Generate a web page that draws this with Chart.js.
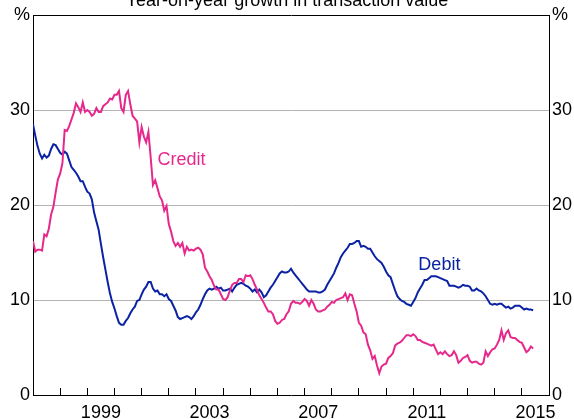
<!DOCTYPE html>
<html>
<head>
<meta charset="utf-8">
<script src="https://cdn.jsdelivr.net/npm/chart.js@4.4.1/dist/chart.umd.min.js"></script>
<style>
  html, body { margin: 0; padding: 0; background: #fff; overflow: hidden; }
  #wrap { position: relative; width: 574px; height: 419px; overflow: hidden; }
  #title { position: absolute; left: 0; top: -9px; width: 574px; text-align: center;
           font: 18px/18px "Liberation Sans", Arial, sans-serif; color: #000; }
  canvas { position: absolute; left: 0; top: 0; }
</style>
</head>
<body>
<div id="wrap">
  <canvas id="chart" width="574" height="419"></canvas>
  <div id="title">Year-on-year growth in transaction value</div>
</div>
<script>
// monthly, starting Jan 1997
const startYear = 1997;
const endYear = 2016;
const yearLabels = [1999, 2003, 2007, 2011, 2015];
const yTicks = [0, 10, 20, 30, 40];

const credit = [
  16.2, 15.1, 15.3, 15.3, 15.2, 16.9, 16.7, 17.5, 19.0, 19.8, 21.3, 22.7,
  23.3, 24.4, 27.9, 27.8, 28.3, 29.0, 29.7, 30.7, 30.3, 29.8, 30.8, 29.8,
  30.0, 29.8, 29.4, 29.6, 30.2, 29.8, 29.8, 30.4, 30.6, 30.8, 31.2, 31.1,
  31.6, 31.6, 32.0, 30.2, 29.8, 31.6, 32.0, 30.6, 29.4, 29.1, 28.8, 26.6,
  28.2, 27.2, 26.6, 27.7, 25.0, 22.1, 22.6, 21.8, 20.9, 20.5, 19.4, 19.9,
  18.0, 17.2, 16.2, 15.7, 16.0, 15.6, 16.0, 14.9, 15.6, 15.2, 15.3, 15.2,
  15.4, 15.5, 15.3, 14.8, 13.4, 13.0, 12.5, 12.1, 11.5, 11.1, 11.1, 10.6,
  10.1, 10.0, 10.3, 11.0, 11.6, 11.8, 11.8, 12.2, 12.2, 11.9, 12.6, 12.5,
  12.6, 12.2, 11.6, 11.1, 10.5, 10.1, 9.7, 9.2, 8.8, 8.8, 8.5, 7.8,
  7.5, 7.6, 7.9, 8.0, 8.5, 8.8, 9.6, 9.9, 9.7, 9.7, 9.6, 9.8,
  10.1, 9.9, 9.4, 10.0, 9.6, 9.0, 8.8, 8.8, 8.9, 9.0, 9.3, 9.5,
  9.8, 9.7, 10.0, 10.1, 10.2, 10.3, 10.7, 10.0, 10.6, 10.5, 9.6, 8.8,
  7.6, 7.3, 6.6, 6.4, 5.3, 4.7, 3.8, 4.1, 3.1, 2.3, 3.0, 3.2,
  3.3, 3.9, 4.1, 4.4, 5.2, 5.4, 5.5, 5.7, 6.0, 6.3, 6.3, 6.2,
  6.4, 6.2, 5.8, 5.8, 5.6, 5.5, 5.4, 5.3, 5.2, 5.3, 4.8, 4.3,
  4.5, 4.3, 4.6, 4.3, 4.1, 4.2, 4.6, 4.2, 3.4, 3.6, 3.9, 4.0,
  4.2, 3.6, 3.4, 3.5, 3.5, 3.3, 3.2, 3.4, 4.6, 4.1, 4.5, 4.8,
  4.9, 5.3, 5.8, 6.8, 5.8, 6.5, 6.8, 6.1, 6.0, 6.0, 5.8, 5.6,
  5.5, 5.0, 4.5, 4.7, 5.1, 4.9
];

const debit = [
  28.5, 27.3, 26.2, 25.4, 24.9, 25.3, 25.0, 25.2, 25.9, 26.4, 26.3, 25.9,
  25.5, 25.3, 25.6, 25.4, 24.7, 24.0, 23.7, 23.4, 23.0, 22.5, 22.5, 21.9,
  21.4, 21.2, 20.6, 19.2, 18.3, 17.4, 15.9, 14.5, 13.2, 11.9, 10.7, 9.8,
  9.1, 8.3, 7.6, 7.4, 7.4, 7.8, 8.1, 8.6, 9.0, 9.3, 9.9, 10.0,
  10.6, 11.1, 11.4, 11.9, 11.9, 11.2, 10.9, 11.0, 10.6, 10.6, 10.4, 10.6,
  10.1, 9.9, 9.4, 8.9, 8.2, 8.0, 8.1, 8.2, 8.3, 8.2, 8.0, 8.3,
  8.7, 9.0, 9.5, 10.1, 10.6, 11.0, 11.2, 11.1, 11.2, 11.4, 11.2, 11.3,
  11.0, 11.0, 11.1, 11.2, 10.9, 11.3, 11.6, 11.7, 11.8, 11.7, 11.5, 11.4,
  11.2, 10.9, 11.1, 10.8, 11.1, 10.8, 10.3, 10.5, 10.9, 11.3, 11.6, 12.0,
  12.4, 12.8, 13.0, 12.9, 12.9, 13.0, 13.3, 12.9, 12.6, 12.3, 12.0, 11.7,
  11.4, 11.1, 10.9, 10.9, 10.9, 10.9, 10.8, 10.8, 10.9, 11.1, 11.6, 12.0,
  12.4, 12.8, 13.4, 13.9, 14.5, 14.9, 15.2, 15.5, 15.9, 15.9, 16.0, 16.2,
  16.2, 15.6, 15.7, 15.6, 15.4, 15.4, 15.0, 14.6, 14.3, 14.1, 13.9, 13.5,
  13.0, 12.6, 12.4, 11.7, 11.0, 10.4, 10.1, 9.9, 9.8, 9.6, 9.5, 9.4,
  9.8, 10.2, 10.8, 11.2, 11.6, 12.1, 12.1, 12.3, 12.5, 12.5, 12.5, 12.4,
  12.3, 12.2, 12.1, 12.0, 11.5, 11.5, 11.5, 11.4, 11.3, 11.4, 11.6, 11.5,
  11.5, 11.4, 11.0, 11.0, 11.2, 11.0, 10.9, 10.7, 10.4, 10.0, 9.6, 9.5,
  9.6, 9.5, 9.6, 9.6, 9.4, 9.2, 9.3, 9.1, 9.2, 9.4, 9.4, 9.4,
  9.2, 9.0, 9.1, 9.0, 9.0, 8.9
];

const months = credit.map((v, i) => startYear + i / 12);

const PINK = '#e6288c';
const BLUE = '#0a22a3';
const FONT = { family: "'Liberation Sans', Arial, sans-serif", size: 18 };

// in-chart series names, placed in data units
const notes = [
  { text: 'Credit', x: 2001.58, y: 24.2, color: PINK },
  { text: 'Debit', x: 2011.19, y: 13.2, color: BLUE }
];

const notesPlugin = {
  id: 'notes',
  afterDatasetsDraw(chart) {
    const ctx = chart.ctx;
    const xs = chart.scales.x, ys = chart.scales.y;
    ctx.save();
    ctx.font = FONT.size + 'px ' + FONT.family;
    ctx.textAlign = 'left';
    ctx.textBaseline = 'alphabetic';
    notes.forEach(n => {
      ctx.fillStyle = n.color;
      ctx.fillText(n.text, xs.getPixelForValue(n.x), ys.getPixelForValue(n.y));
    });
    ctx.restore();
  }
};

const clear = 'rgba(0,0,0,0)';

new Chart(document.getElementById('chart'), {
  type: 'line',
  data: {
    datasets: [
      {
        label: 'Credit',
        data: credit.map((v, i) => ({ x: months[i], y: v })),
        borderColor: PINK, borderWidth: 2, pointRadius: 0, tension: 0,
        xAxisID: 'x', yAxisID: 'y'
      },
      {
        label: 'Debit',
        data: debit.map((v, i) => ({ x: months[i], y: v })),
        borderColor: BLUE, borderWidth: 2, pointRadius: 0, tension: 0,
        xAxisID: 'x', yAxisID: 'y'
      }
    ]
  },
  options: {
    responsive: false,
    animation: false,
    devicePixelRatio: 1,
    layout: { padding: 0 },
    plugins: {
      legend: { display: false },
      tooltip: { enabled: false },
      title: { display: false }
    },
    scales: {
      x: {
        type: 'linear', position: 'bottom', min: startYear, max: endYear,
        afterBuildTicks: s => {
          s.ticks = [];
          for (let y = startYear; y <= endYear; y += 0.5) s.ticks.push({ value: y });
        },
        afterFit: s => { s.height = 24; },
        ticks: {
          autoSkip: false, maxRotation: 0, padding: 14, color: '#000', font: FONT,
          callback: v => (v % 1 === 0.5 && yearLabels.includes(Math.floor(v))) ? String(Math.floor(v)) : ''
        },
        grid: {
          drawOnChartArea: false, drawTicks: true, tickLength: -7,
          color: c => (c.tick && c.tick.value % 1 === 0) ? '#000' : clear
        },
        border: { display: true, color: '#000', width: 1 }
      },
      xTop: {
        type: 'linear', position: 'top', min: startYear, max: endYear,
        afterFit: s => { s.height = 15; },
        ticks: { display: false },
        grid: { drawOnChartArea: false, drawTicks: false },
        border: { display: true, color: '#000', width: 1 }
      },
      y: {
        type: 'linear', position: 'left', min: 0, max: 40,
        afterBuildTicks: s => { s.ticks = yTicks.map(v => ({ value: v })); },
        afterFit: s => { s.width = 33; },
        ticks: { padding: 3, color: '#000', font: FONT, callback: v => v === 40 ? '%' : String(v) },
        grid: {
          drawTicks: false,
          color: c => (c.tick && c.tick.value > 0 && c.tick.value < 40) ? '#b4b4b4' : clear
        },
        border: { display: true, color: '#000', width: 1 }
      },
      y2: {
        type: 'linear', position: 'right', min: 0, max: 40,
        afterBuildTicks: s => { s.ticks = yTicks.map(v => ({ value: v })); },
        afterFit: s => { s.width = 25; },
        ticks: { padding: 3, color: '#000', font: FONT, callback: v => v === 40 ? '%' : String(v) },
        grid: { drawOnChartArea: false, drawTicks: false },
        border: { display: true, color: '#000', width: 1 }
      }
    }
  },
  plugins: [notesPlugin]
});
</script>
</body>
</html>
